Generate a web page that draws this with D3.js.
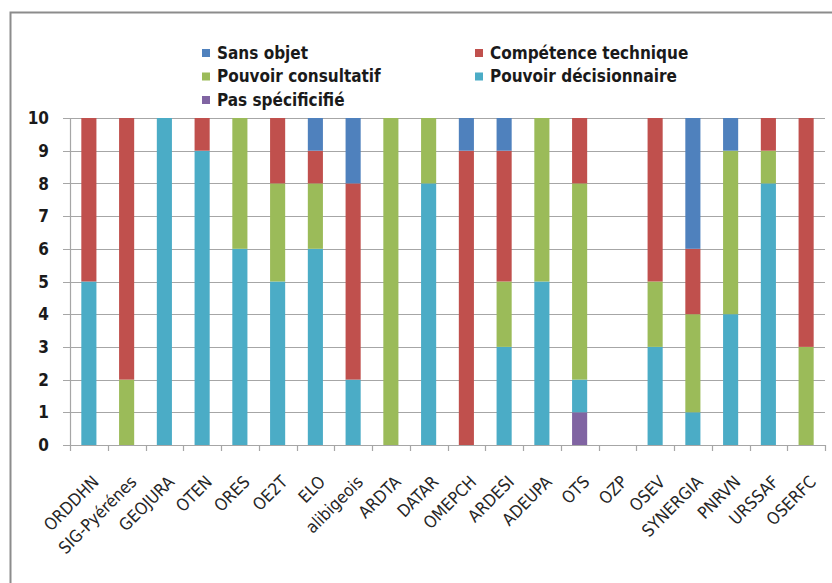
<!DOCTYPE html>
<html><head><meta charset="utf-8">
<script src="https://cdn.jsdelivr.net/npm/d3@7"></script>
<style>
html,body{margin:0;padding:0;background:#fff;}
svg{display:block;font-family:"DejaVu Sans Condensed","Liberation Sans Narrow","Open Sans",sans-serif;}
</style></head><body>
<script>
const categories = ["ORDDHN","SIG-Pyérénes","GEOJURA","OTEN","ORES","OE2T","ELO","alibigeois","ARDTA","DATAR","OMEPCH","ARDESI","ADEUPA","OTS","OZP","OSEV","SYNERGIA","PNRVN","URSSAF","OSERFC"];
const pasSpecifie   = [0,0,0,0,0,0,0,0,0,0,0,0,0,1,0,0,0,0,0,0];
const decisionnaire = [5,0,10,9,6,5,6,2,0,8,0,3,5,1,0,3,1,4,8,0];
const consultatif   = [0,2,0,0,4,3,2,0,10,2,0,2,5,6,0,2,3,5,1,3];
const competence    = [5,8,0,1,0,2,1,6,0,0,9,4,0,2,0,5,2,0,1,7];
const sansObjet     = [0,0,0,0,0,0,1,2,0,0,1,1,0,0,0,0,4,1,0,0];
const yTicks = [0,1,2,3,4,5,6,7,8,9,10];

const seriesNames = ["Pas spécificifié","Pouvoir décisionnaire","Pouvoir consultatif","Compétence technique","Sans objet"];
const seriesData = [pasSpecifie, decisionnaire, consultatif, competence, sansObjet];
const colors = ["#8064A2","#4BACC6","#9BBB59","#C0504D","#4F81BD"];

const W = 832, H = 583;
const svg = d3.select("body").append("svg").attr("width", W).attr("height", H);

// frame
svg.append("rect").attr("x",10.5).attr("y",12.5).attr("width",W+10).attr("height",H+10)
  .attr("fill","none").attr("stroke","#8c8c8c").attr("stroke-width",2);

const x0 = 70, x1 = 825, yTop = 118, yBot = 445;
const rows = categories.map((c,i)=>{
  const r = {cat:c};
  seriesNames.forEach((s,k)=> r[s] = seriesData[k][i]);
  return r;
});
const stack = d3.stack().keys(seriesNames)(rows);

const x = d3.scaleBand().domain(categories).range([x0, x1]).paddingInner(0.6).paddingOuter(0.3);
const y = d3.scaleLinear().domain([0,10]).range([yBot, yTop]);

// gridlines
svg.append("g").selectAll("line").data(yTicks).join("line")
  .attr("x1", x0-7).attr("x2", x1)
  .attr("y1", d=>Math.round(y(d))+0.5).attr("y2", d=>Math.round(y(d))+0.5)
  .attr("stroke","#a6a6a6").attr("stroke-width",1.2);

// y axis line
svg.append("line").attr("x1",x0+0.5).attr("x2",x0+0.5).attr("y1",yTop).attr("y2",yBot)
  .attr("stroke","#a6a6a6").attr("stroke-width",1.2);

// bars
svg.append("g").selectAll("g").data(stack).join("g")
  .attr("fill",(d,i)=>colors[i])
  .selectAll("rect").data(d=>d).join("rect")
  .attr("x", d=>x(d.data.cat))
  .attr("width", x.bandwidth())
  .attr("y", d=>y(d[1]))
  .attr("height", d=>y(d[0])-y(d[1]));

// x axis ticks at boundaries
const step = x.step();
const bounds = d3.range(categories.length+1);
svg.append("g").selectAll("line").data(bounds).join("line")
  .attr("x1", d=>Math.round(x0+d*step)+0.5).attr("x2", d=>Math.round(x0+d*step)+0.5)
  .attr("y1", yBot).attr("y2", yBot+6)
  .attr("stroke","#a6a6a6").attr("stroke-width",1.2);

// y labels
svg.append("g").selectAll("text").data(yTicks).join("text")
  .attr("x", 49).attr("y", d=>y(d)).attr("dy","0.36em")
  .attr("text-anchor","end").attr("font-size",17).attr("font-weight","bold").attr("fill","#1a1a1a")
  .text(d=>d);

// x labels
svg.append("g").selectAll("text").data(categories).join("text")
  .attr("transform", d=>`translate(${x(d)+x.bandwidth()/2+11},${yBot+38}) rotate(-45)`)
  .attr("text-anchor","end").attr("font-size",17).attr("fill","#262626")
  .text(d=>d);

// legend
const legendItems = [
  {name:"Sans objet", c:colors[4], x:202, y:53},
  {name:"Compétence technique", c:colors[3], x:475, y:53},
  {name:"Pouvoir consultatif", c:colors[2], x:202, y:76.5},
  {name:"Pouvoir décisionnaire", c:colors[1], x:475, y:76.5},
  {name:"Pas spécificifié", c:colors[0], x:202, y:100}
];
const lg = svg.append("g").selectAll("g").data(legendItems).join("g")
  .attr("transform", d=>`translate(${d.x},${d.y})`);
lg.append("rect").attr("x",0).attr("y",-4).attr("width",8).attr("height",8).attr("fill",d=>d.c);
lg.append("text").attr("x",15).attr("y",0).attr("dy","0.35em")
  .attr("font-size",17).attr("font-weight","bold").attr("fill","#1a1a1a").text(d=>d.name);
</script>
</body></html>
